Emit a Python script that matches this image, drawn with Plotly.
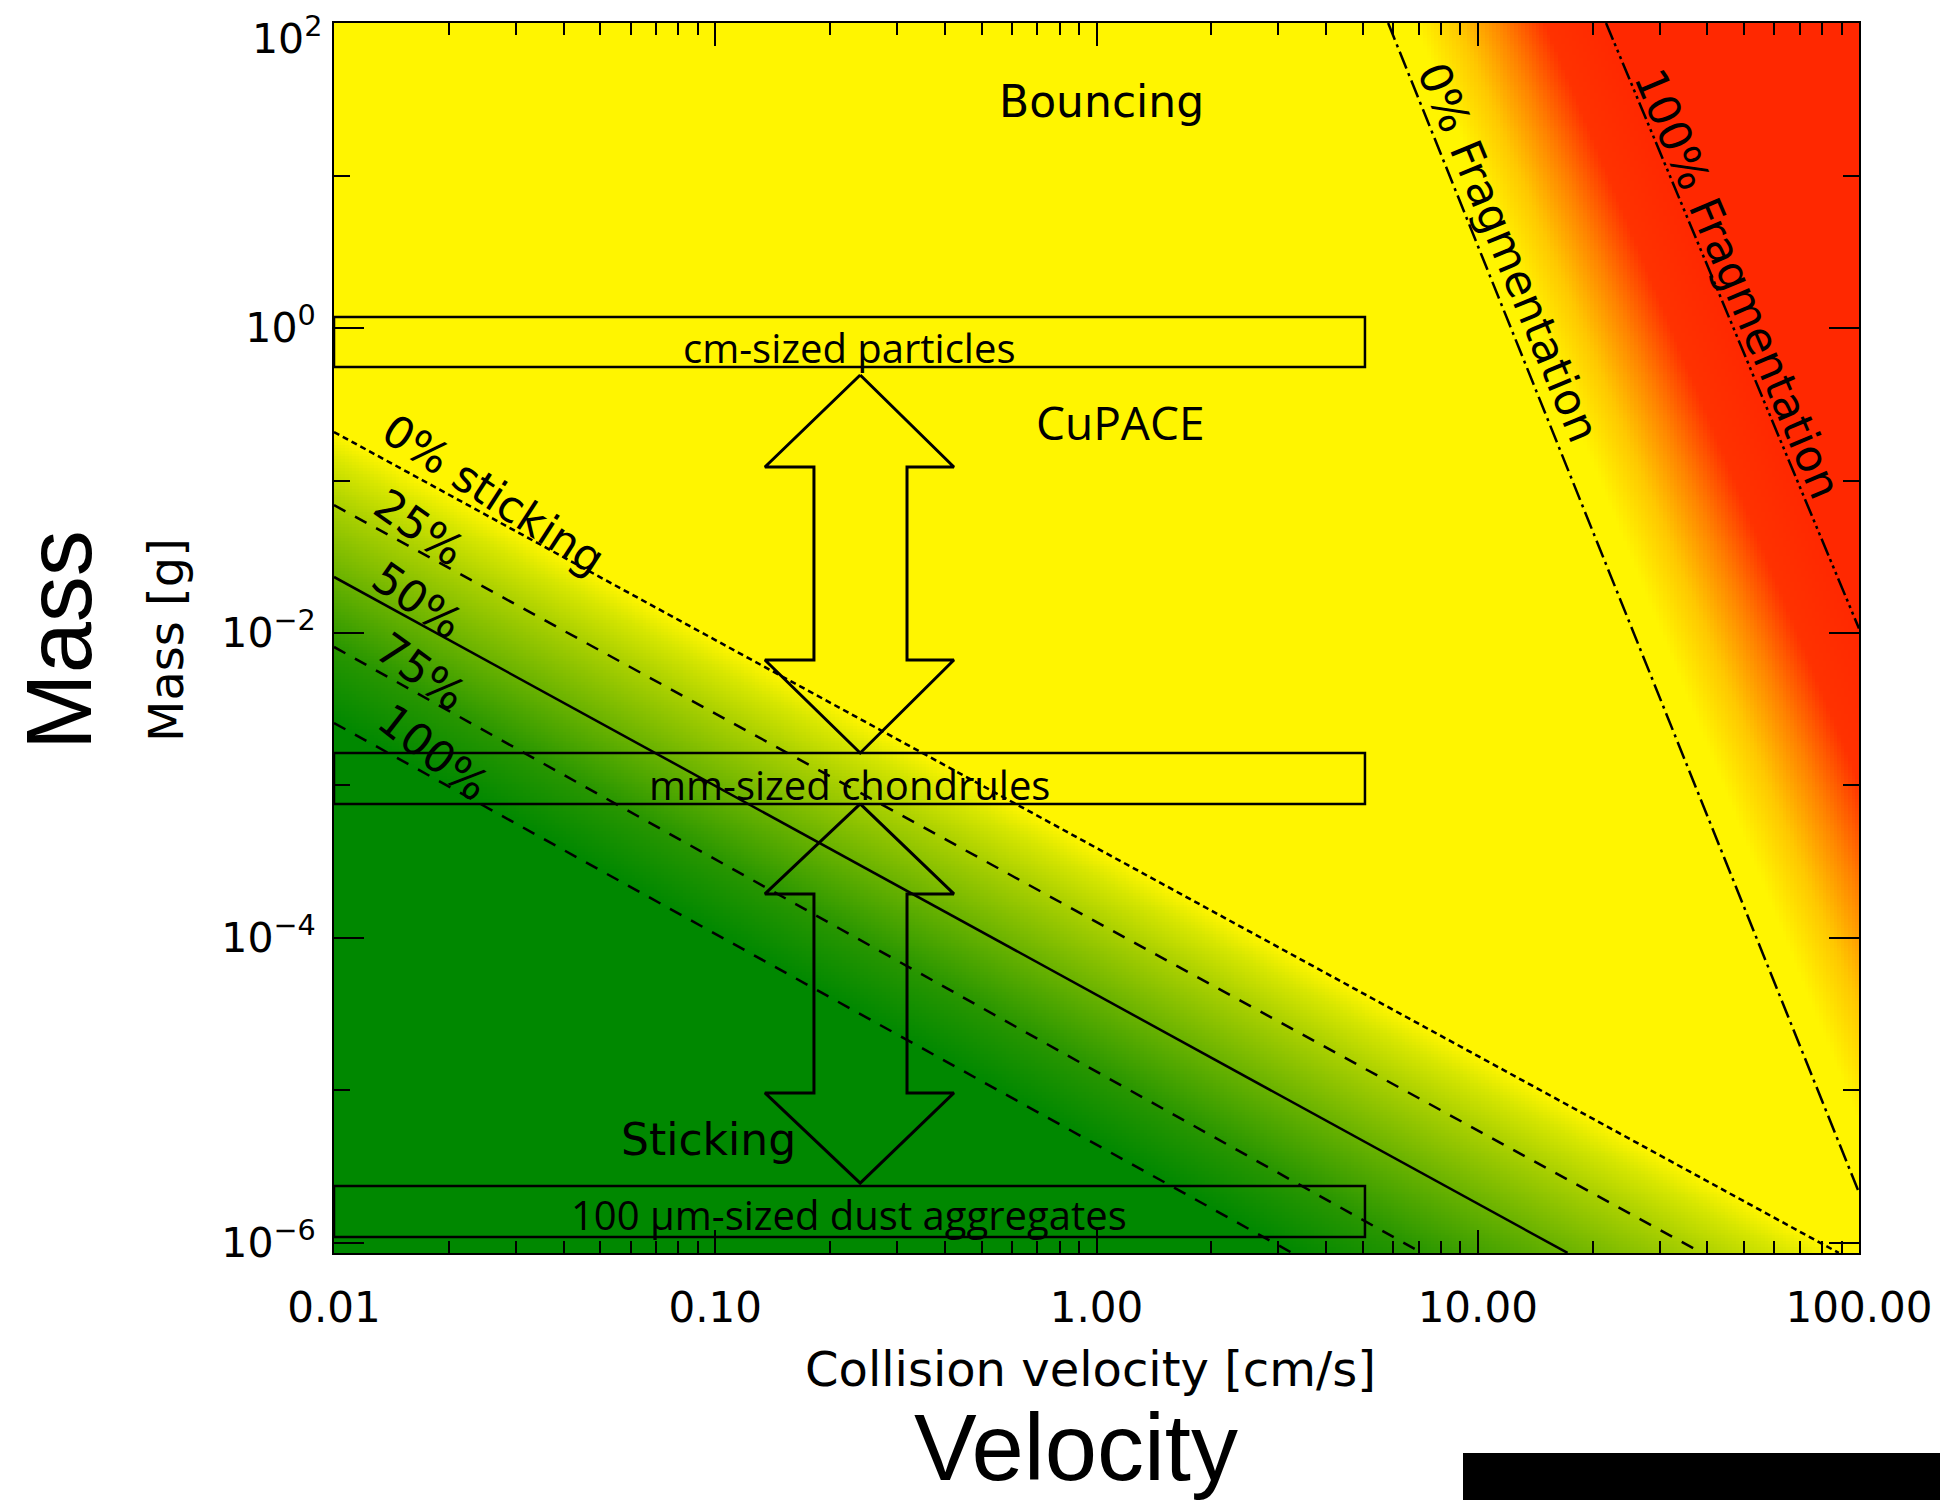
import numpy as np
import plotly.graph_objects as go

# ---------------- axes ----------------
V_RANGE = [0.01, 100.0]                 # collision velocity [cm/s]
M_RANGE = [10 ** -6.066, 10 ** 2.0003]  # mass [g]
x_tickvals = [0.01, 0.1, 1, 10, 100]
x_ticktext = ["0.01", "0.10", "1.00", "10.00", "100.00"]
y_tickvals = [1e-6, 1e-4, 1e-2, 1e0, 1e2]
y_ticktext = ["10<sup>−6</sup>", "10<sup>−4</sup>", "10<sup>−2</sup>", "10<sup>0</sup>", "10<sup>2</sup>"]
x_minor = [k * 10.0 ** e for e in (-2, -1, 0, 1) for k in range(2, 10)]
y_minor = [1e-5, 1e-3, 1e-1, 1e1]

# ---------------- sticking-probability lines ----------------
stick_labels = ["0% sticking", "25%", "50%", "75%", "100%"]
stick_frac = [0.0, 0.25, 0.5, 0.75, 1.0]
stick_v0 = [0.01, 0.01, 0.01, 0.01, 0.01]
stick_m0 = [0.208, 0.069, 0.0233, 0.0081, 0.00257]
stick_v1 = [88.5, 38.7, 17.2, 7.14, 3.26]
stick_m1 = [8.6e-7, 8.6e-7, 8.6e-7, 8.6e-7, 8.6e-7]

# ---------------- fragmentation lines ----------------
frag_labels = ["0% Fragmentation", "100% Fragmentation"]
frag_v0 = [5.82, 21.7]
frag_m0 = [100.0, 100.0]
frag_v1 = [100.0, 100.0]
frag_m1 = [2.14e-6, 0.0107]

# ---------------- size-class boxes ----------------
box_labels = ["cm-sized particles", "mm-sized chondrules", "100 µm-sized dust aggregates"]
box_v = [0.01, 5.06]
box_m_low = [0.555, 7.57e-4, 1.094e-6]
box_m_high = [1.18, 1.633e-3, 2.366e-6]

# ---------------- double arrows ----------------
arrow_v_center = 0.240
arrow_v_head = [0.135, 0.4227]
arrow_v_shaft = [0.1815, 0.3184]
# [top tip, upper head base, lower head base, bottom tip]
arrow_m = [
    [0.492, 0.1227, 6.65e-3, 1.633e-3],
    [7.57e-4, 1.945e-4, 9.64e-6, 2.47e-6],
]

# ---------------- colours ----------------
YELLOW = "rgb(255,245,0)"
GREEN = "rgb(0,136,0)"
RED = "rgb(255,40,0)"

# ---------------- background field ----------------
NX, NY = 420, 420
lv_edges = np.linspace(np.log10(V_RANGE[0]), np.log10(V_RANGE[1]), NX + 1)
lm_edges = np.linspace(np.log10(M_RANGE[0]), np.log10(M_RANGE[1]), NY + 1)
lv_c = 0.5 * (lv_edges[:-1] + lv_edges[1:])
lm_c = 0.5 * (lm_edges[:-1] + lm_edges[1:])

def line_lm_at(lv, v0, m0, v1, m1):
    a0, b0, a1, b1 = np.log10(v0), np.log10(m0), np.log10(v1), np.log10(m1)
    return b0 + (b1 - b0) / (a1 - a0) * (lv - a0)

def line_lv_at(lm, v0, m0, v1, m1):
    a0, b0, a1, b1 = np.log10(v0), np.log10(m0), np.log10(v1), np.log10(m1)
    return a0 + (a1 - a0) / (b1 - b0) * (lm - b0)

stick = np.zeros((NY, NX))
order = np.argsort(stick_m0)  # lowest line first
for j, lv in enumerate(lv_c):
    xp = [line_lm_at(lv, stick_v0[k], stick_m0[k], stick_v1[k], stick_m1[k]) for k in order]
    fp = [stick_frac[k] for k in order]
    stick[:, j] = np.interp(lm_c, xp, fp)

frag = np.zeros((NY, NX))
for i, lm in enumerate(lm_c):
    l0 = line_lv_at(lm, frag_v0[0], frag_m0[0], frag_v1[0], frag_m1[0])
    l1 = line_lv_at(lm, frag_v0[1], frag_m0[1], frag_v1[1], frag_m1[1])
    frag[i, :] = np.interp(lv_c, [l0, l1], [0.0, 1.0])

zfield = np.round(frag - stick, 3)

colorscale = [
    [0.0, GREEN],
    [0.125, "rgb(40,150,0)"],
    [0.25, "rgb(105,178,0)"],
    [0.375, "rgb(170,208,0)"],
    [0.45, "rgb(215,230,0)"],
    [0.5, YELLOW],
    [0.56, YELLOW],
    [0.66, "rgb(255,200,0)"],
    [0.76, "rgb(255,130,0)"],
    [0.86, "rgb(255,50,0)"],
    [1.0, RED],
]

fig = go.Figure()
fig.add_trace(go.Heatmap(
    x=10 ** lv_edges, y=10 ** lm_edges, z=zfield,
    zmin=-1, zmax=1, colorscale=colorscale, showscale=False,
    zsmooth=False, hoverinfo="skip",
))

# sticking lines
stick_dash = ["6px,4px", "13px,11px", "solid", "13px,11px", "13px,11px"]
for k in range(len(stick_labels)):
    fig.add_trace(go.Scatter(
        x=[stick_v0[k], stick_v1[k]], y=[stick_m0[k], stick_m1[k]],
        mode="lines", line=dict(color="black", width=2.5, dash=stick_dash[k]),
        showlegend=False, hoverinfo="skip",
    ))

# fragmentation lines
frag_dash = ["18px,5px,3px,5px", "18px,4px,3px,4px,3px,4px,3px,4px"]
for k in range(len(frag_labels)):
    fig.add_trace(go.Scatter(
        x=[frag_v0[k], frag_v1[k]], y=[frag_m0[k], frag_m1[k]],
        mode="lines", line=dict(color="black", width=2.5, dash=frag_dash[k]),
        showlegend=False, hoverinfo="skip",
    ))

# boxes
for k in range(len(box_labels)):
    fig.add_trace(go.Scatter(
        x=[box_v[0], box_v[1], box_v[1], box_v[0], box_v[0]],
        y=[box_m_low[k], box_m_low[k], box_m_high[k], box_m_high[k], box_m_low[k]],
        mode="lines", line=dict(color="black", width=2.5),
        showlegend=False, hoverinfo="skip",
    ))

# arrows
for am in arrow_m:
    top, hb_top, hb_bot, bot = am
    xs = [arrow_v_center, arrow_v_head[1], arrow_v_shaft[1], arrow_v_shaft[1], arrow_v_head[1],
          arrow_v_center, arrow_v_head[0], arrow_v_shaft[0], arrow_v_shaft[0], arrow_v_head[0],
          arrow_v_center]
    ys = [top, hb_top, hb_top, hb_bot, hb_bot, bot, hb_bot, hb_bot, hb_top, hb_top, top]
    fig.add_trace(go.Scatter(
        x=xs, y=ys, mode="lines", line=dict(color="black", width=3),
        showlegend=False, hoverinfo="skip",
    ))

# ---------------- text ----------------
# plot-area edges in page pixels (the page body has an 8 px margin)
PAGE_OFF = 8
PL, PR, PT, PB = 334, 1859, 23, 1253
FIG_W, FIG_H = 1948 - PAGE_OFF, 1500 - PAGE_OFF

def px(xp):
    return (xp - PL) / (PR - PL)
def py(yp):
    return (PB - yp) / (PB - PT)

IDL_FONT = "DejaVu Sans"
BOX_FONT = "Open Sans"
BIG_FONT = "Liberation Sans"

def note(text, xp, yp, size, family=IDL_FONT, angle=0, xanchor="center"):
    fig.add_annotation(
        text=text, x=px(xp), y=py(yp), xref="paper", yref="paper",
        xanchor=xanchor, yanchor="middle", showarrow=False,
        textangle=angle, font=dict(family=family, size=size, color="black"),
    )

# the top tick label sits just below the frame top, as in the original
y_tick_labels_shown = list(y_ticktext)
top_label = y_tick_labels_shown[-1]
y_tick_labels_shown[-1] = ""
note(top_label, 324, 36, 41, xanchor="right")

note("Bouncing", 1101, 102, 44)
note("CuPACE", 1120, 422, 46, BOX_FONT)
note("Sticking", 708, 1139, 44)

box_label_y = [347, 784, 1214]
for k in range(len(box_labels)):
    note(box_labels[k], 849, box_label_y[k], 40, BOX_FONT)

stick_label_pos = [(494, 494), (420, 527), (418, 600), (421, 672), (434, 752)]
stick_label_ang = [33, 35, 35, 36, 38]
for k in range(len(stick_labels)):
    note(stick_labels[k], stick_label_pos[k][0], stick_label_pos[k][1], 44, angle=stick_label_ang[k])

note(frag_labels[0], 1508, 252, 44, angle=67.5)
note(frag_labels[1], 1738, 283, 44, angle=67)

note("Collision velocity [cm/s]", 1090, 1369, 48)
note("Mass [g]", 166, 640, 48, angle=-90)
note("Mass", 59, 640, 92, BIG_FONT, angle=-90)
note("Velocity", 1076, 1447, 94, BIG_FONT)

fig.add_shape(type="rect", xref="paper", yref="paper",
              x0=px(1463), x1=px(1960), y0=py(1453), y1=py(1510),
              fillcolor="black", line=dict(width=0), layer="above")

fig.update_layout(
    width=FIG_W, height=FIG_H,
    margin=dict(l=PL - PAGE_OFF, r=FIG_W + PAGE_OFF - PR, t=PT - PAGE_OFF, b=FIG_H + PAGE_OFF - PB,
                autoexpand=False),
    paper_bgcolor="white", plot_bgcolor=YELLOW,
    showlegend=False,
    xaxis=dict(
        type="log", range=[np.log10(V_RANGE[0]), np.log10(V_RANGE[1])],
        tickmode="array", tickvals=x_tickvals, ticktext=x_ticktext,
        ticks="inside", ticklen=23, tickwidth=2, tickcolor="black",
        showline=True, linecolor="black", linewidth=2, mirror="ticks",
        showgrid=False, zeroline=False, ticklabelstandoff=17, automargin=False,
        tickfont=dict(family=IDL_FONT, size=42, color="black"),
        minor=dict(tickmode="array", tickvals=x_minor, ticks="inside",
                   ticklen=12, tickwidth=2, tickcolor="black", showgrid=False),
    ),
    yaxis=dict(
        type="log", range=[np.log10(M_RANGE[0]), np.log10(M_RANGE[1])],
        tickmode="array", tickvals=y_tickvals, ticktext=y_tick_labels_shown,
        ticks="inside", ticklen=30, tickwidth=2, tickcolor="black",
        showline=True, linecolor="black", linewidth=2, mirror="ticks",
        showgrid=False, zeroline=False, ticklabelstandoff=8, automargin=False,
        tickfont=dict(family=IDL_FONT, size=41, color="black"),
        minor=dict(tickmode="array", tickvals=y_minor, ticks="inside",
                   ticklen=16, tickwidth=2, tickcolor="black", showgrid=False),
    ),
)

fig.write_html("out.html")
